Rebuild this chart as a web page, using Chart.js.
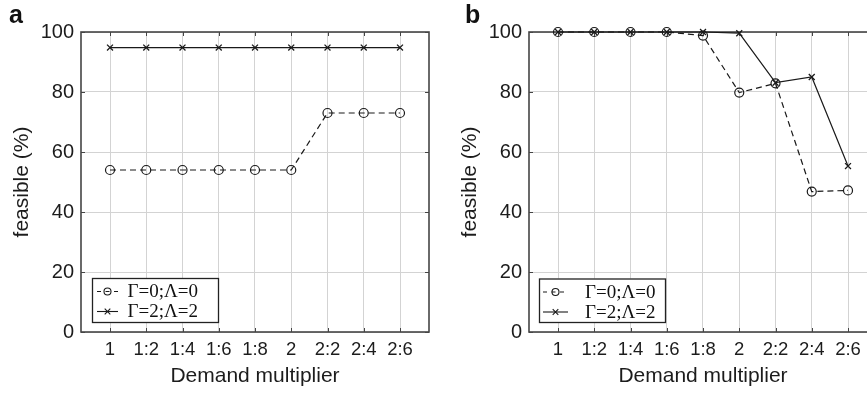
<!DOCTYPE html>
<html><head><meta charset="utf-8">
<script src="https://cdn.jsdelivr.net/npm/chart.js@4"></script>
<style>
html,body{margin:0;padding:0;background:#fff;overflow:hidden;width:867px;height:393px;}
#wrap{position:relative;width:867px;height:393px;overflow:hidden;}
canvas{position:absolute;top:0;}
#ca{left:0;} #cb{left:448px;}
.lbl{position:absolute;top:2px;font:bold 25px "Liberation Sans",Arial,sans-serif;line-height:25px;color:#111;}
</style></head><body>
<div id="wrap">
<canvas id="ca" width="440" height="393" style="width:440px;height:393px"></canvas>
<canvas id="cb" width="440" height="393" style="width:440px;height:393px"></canvas>
<div class="lbl" style="left:9px">a</div>
<div class="lbl" style="left:465px">b</div>
</div>
<script>
const categories = ['1','1:2','1:4','1:6','1:8','2','2:2','2:4','2:6'];
const seriesNames = ['\u0393=0;\u039B=0', '\u0393=2;\u039B=2'];
const yTicks = [0,20,40,60,80,100];
// panel a
const aGamma0 = [54,54,54,54,54,54,73,73,73];
const aGamma2 = [94.8,94.8,94.8,94.8,94.8,94.8,94.8,94.8,94.8];
// panel b
const bGamma0 = [100,100,100,100,98.8,79.8,82.9,46.8,47.2];
const bGamma2 = [100,100,100,100,100,99.6,83.1,85,55.3];

const SANS = '"Liberation Sans", Arial, Helvetica, sans-serif';
const SERIF = '"Liberation Serif", "Times New Roman", serif';
const INK = '#1a1a1a';
const TXT = '#1c1c1c';

const framePlugin = {
  id: 'frame',
  beforeDatasetsDraw(chart) {
    const {ctx, chartArea: a, scales} = chart;
    ctx.save();
    ctx.strokeStyle = '#454545';
    ctx.lineWidth = 1.6;
    ctx.strokeRect(a.left, a.top, a.right - a.left, a.bottom - a.top);
    ctx.lineWidth = 1;
    ctx.beginPath();
    categories.forEach((c, i) => {
      const px = Math.round(scales.x.getPixelForValue(i + 1)) + 0.5;
      ctx.moveTo(px, a.bottom); ctx.lineTo(px, a.bottom - 4);
      ctx.moveTo(px, a.top); ctx.lineTo(px, a.top + 4);
    });
    yTicks.forEach(v => {
      const py = Math.round(scales.y.getPixelForValue(v)) + 0.5;
      ctx.moveTo(a.left, py); ctx.lineTo(a.left + 4, py);
      ctx.moveTo(a.right, py); ctx.lineTo(a.right - 4, py);
    });
    ctx.stroke();
    ctx.restore();
  },
  afterDraw(chart, args, o) {
    const {ctx} = chart;
    ctx.save();
    ctx.fillStyle = '#fff';
    ctx.fillRect(o.x, o.y, o.w, o.h);
    ctx.strokeStyle = '#222';
    ctx.lineWidth = 1.3;
    ctx.strokeRect(o.x + 0.5, o.y + 0.5, o.w, o.h);
    const rows = [o.y + 13.5, o.y + 33.5];
    ctx.strokeStyle = INK;
    ctx.lineWidth = 1.1;
    // row 1: dashed with circle
    ctx.setLineDash([4, 4.5]);
    ctx.beginPath(); ctx.moveTo(o.mL, rows[0]); ctx.lineTo(o.mR, rows[0]); ctx.stroke();
    ctx.setLineDash([]);
    ctx.beginPath(); ctx.arc(o.mC, rows[0], 3.5, 0, Math.PI * 2); ctx.stroke();
    // row 2: solid with cross
    ctx.beginPath(); ctx.moveTo(o.mL, rows[1]); ctx.lineTo(o.mR, rows[1]); ctx.stroke();
    const d = 2.8;
    ctx.beginPath();
    ctx.moveTo(o.mC - d, rows[1] - d); ctx.lineTo(o.mC + d, rows[1] + d);
    ctx.moveTo(o.mC - d, rows[1] + d); ctx.lineTo(o.mC + d, rows[1] - d);
    ctx.stroke();
    ctx.fillStyle = '#111';
    ctx.font = '19px ' + SERIF;
    ctx.textBaseline = 'middle';
    ctx.textAlign = 'left';
    ctx.fillText(seriesNames[0], o.tX, rows[0] + 1);
    ctx.fillText(seriesNames[1], o.tX, rows[1] + 1);
    ctx.restore();
  }
};

function makeChart(id, s0, s1, legendPos) {
  const toPts = arr => categories.map((c, i) => ({x: i + 1, y: arr[i]}));
  return new Chart(document.getElementById(id), {
    type: 'line',
    data: {
      datasets: [
        {label: seriesNames[0], data: toPts(s0), borderColor: INK, borderWidth: 1.2,
         borderDash: [6, 4], pointStyle: 'circle', pointRadius: 4.5, pointBorderWidth: 1.2,
         pointBackgroundColor: 'rgba(0,0,0,0)', pointBorderColor: INK, fill: false, tension: 0, clip: false},
        {label: seriesNames[1], data: toPts(s1), borderColor: INK, borderWidth: 1.2,
         pointStyle: 'crossRot', pointRadius: 4.2, pointBorderWidth: 1.3,
         pointBackgroundColor: INK, pointBorderColor: INK, fill: false, tension: 0, clip: false}
      ]
    },
    options: {
      responsive: false, animation: false, devicePixelRatio: 1,
      layout: {padding: {top: 32, right: 11, left: 0, bottom: 0}},
      plugins: {legend: {display: false}, tooltip: {enabled: false}, frame: legendPos},
      scales: {
        x: {
          type: 'linear', min: 0.2, max: 9.8,
          afterBuildTicks: ax => { ax.ticks = categories.map((c, i) => ({value: i + 1})); },
          afterFit: s => { s.height = 61; },
          ticks: {callback: v => categories[Math.round(v) - 1] ?? '', font: {family: SANS, size: 18.5},
                  color: TXT, padding: 7, maxRotation: 0, autoSkip: false},
          grid: {color: '#d3d3d3', lineWidth: 1, drawTicks: false},
          border: {display: false},
          title: {display: true, text: 'Demand multiplier', font: {family: SANS, size: 21},
                  color: TXT, padding: {top: 0, bottom: 4}}
        },
        y: {
          min: 0, max: 100,
          afterBuildTicks: ax => { ax.ticks = yTicks.map(v => ({value: v})); },
          afterFit: s => { s.width = 81; },
          ticks: {font: {family: SANS, size: 20}, color: TXT, padding: 7},
          grid: {color: '#d3d3d3', lineWidth: 1, drawTicks: false},
          border: {display: false},
          title: {display: true, text: 'feasible (%)', font: {family: SANS, size: 21},
                  color: TXT, padding: {top: 10, bottom: 0}}
        }
      }
    },
    plugins: [framePlugin]
  });
}

makeChart('ca', aGamma0, aGamma2, {x: 92, y: 278, w: 126, h: 44, mL: 97, mR: 118, mC: 107.5, tX: 127.5});
makeChart('cb', bGamma0, bGamma2, {x: 91, y: 278.5, w: 126, h: 43.5, mL: 95, mR: 120, mC: 107.5, tX: 137});
</script>
</body></html>
